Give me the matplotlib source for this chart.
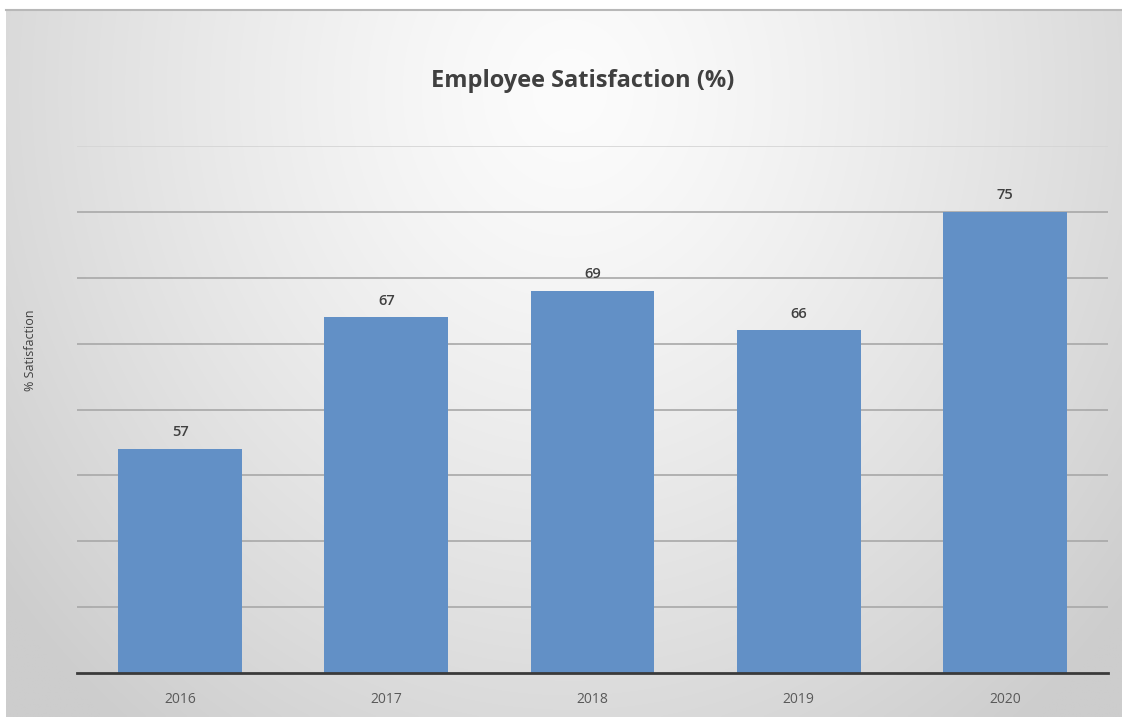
import numpy as np
import matplotlib
matplotlib.use("Agg")
import matplotlib.pyplot as plt

years = ["2016", "2017", "2018", "2019", "2020"]
satisfaction = [57, 67, 69, 66, 75]
title = "Employee Satisfaction (%)"
ylabel = "% Satisfaction"

W, H = 1122, 717
fig = plt.figure(figsize=(W / 100, H / 100), dpi=100, facecolor="white")

# gradient background panel
bg = fig.add_axes([0, 0, 1, 1], zorder=0)
bg.set_xlim(0, W)
bg.set_ylim(H, 0)
bg.axis("off")
xx, yy = np.meshgrid(np.linspace(6, W, 400), np.linspace(9, H, 300))
r = np.sqrt(((xx - 570) / 640) ** 2 + ((yy - 90) / 720) ** 2)
val = np.clip(252 - 40 * r ** 1.3, 205, 252) / 255.0
img = np.dstack([val, val, val])
bg.imshow(img, extent=[6, W, H, 9], aspect="auto", interpolation="bilinear")
bg.plot([6, W], [9.5, 9.5], color="#b8b8b8", lw=1.5)

ax = fig.add_axes([77 / W, (H - 673) / H, (1108 - 77) / W, (673 - 146) / H], zorder=1)
ax.patch.set_alpha(0)
x = np.arange(len(years))
bars = ax.bar(x, satisfaction, width=0.6, color="#6290c6", zorder=3)
ax.set_xlim(-0.5, len(years) - 0.5)
ax.set_ylim(40, 80)
ax.set_yticks(np.arange(45, 81, 5))
ax.yaxis.grid(True, color="#a8a8a8", lw=1.2, zorder=0)
ax.get_ygridlines()[-1].set_color("#d4d4d4")
ax.tick_params(axis="y", left=False, labelleft=False)
ax.tick_params(axis="x", bottom=False, pad=10)
ax.set_xticks(x)
ax.set_xticklabels(years, fontsize=10, color="#595959", family="Open Sans")
for s in ["top", "right", "left"]:
    ax.spines[s].set_visible(False)
ax.spines["bottom"].set_color("#3a3a3a")
ax.spines["bottom"].set_linewidth(2)
ax.spines["bottom"].set_zorder(4)

for xi, v in zip(x, satisfaction):
    ax.annotate(str(v), (xi, v), xytext=(0, 7), textcoords="offset points",
                ha="center", va="bottom", fontsize=10.5, color="#404040",
                family="Open Sans", fontweight="semibold")

fig.text(583 / W, 1 - 81 / H, title, ha="center", va="center", fontsize=17,
         color="#404040", family="Open Sans", fontweight="bold")
fig.text(31 / W, 1 - 350 / H, ylabel, ha="center", va="center", rotation=90,
         fontsize=9, color="#404040", family="Open Sans")

fig.savefig("out.png", dpi=100, facecolor="white")
